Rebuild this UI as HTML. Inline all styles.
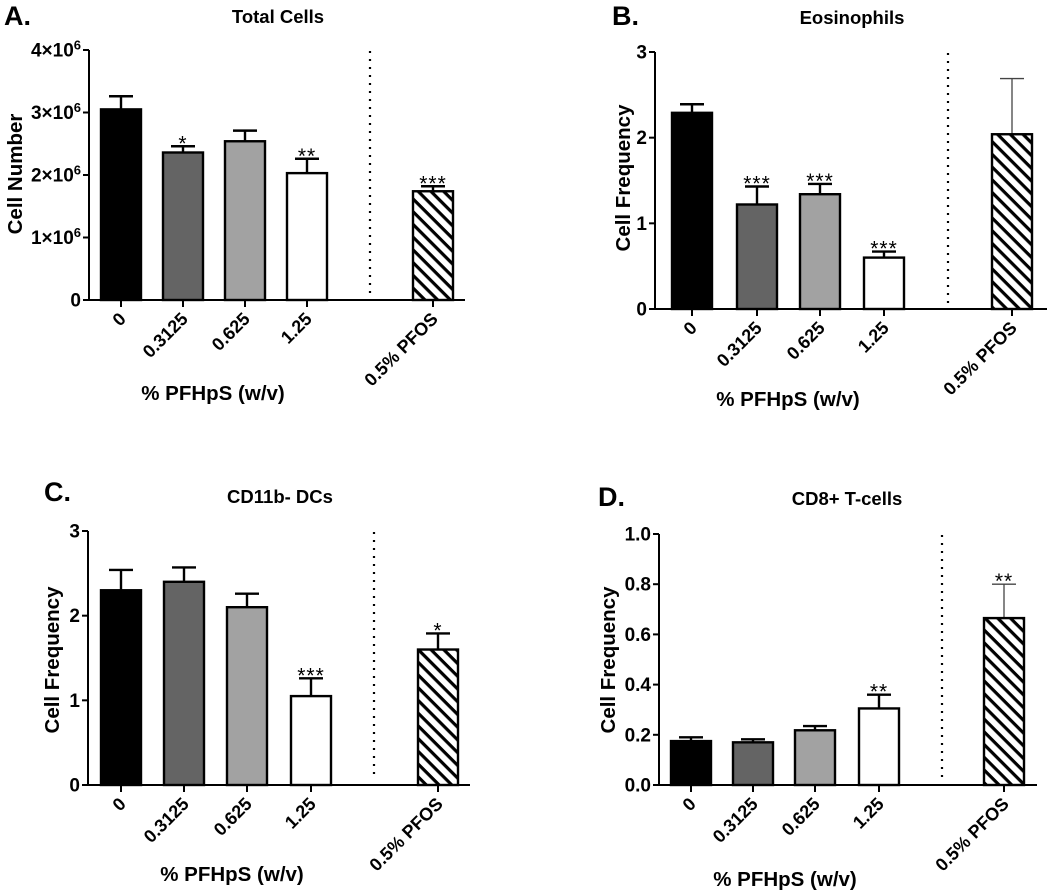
<!DOCTYPE html>
<html><head><meta charset="utf-8"><style>
html,body{margin:0;padding:0;background:#fff}
svg{display:block;font-family:"Liberation Sans",Arial,sans-serif;font-weight:bold}
</style></head><body>
<svg id="fig" width="1050" height="893" viewBox="0 0 1050 893">
<defs>
<pattern id="hatch" patternUnits="userSpaceOnUse" width="9" height="9" patternTransform="rotate(45)">
<rect width="9" height="9" fill="#fff"/><rect x="0" y="0" width="9" height="3.2" fill="#000"/>
</pattern>
</defs>
</svg>
<script>
const categories = ["0","0.3125","0.625","1.25","0.5% PFOS"];
const fills = ["#000","#646464","#a2a2a2","#fff","url(#hatch)"];
const totalMeans = [3.05,2.36,2.54,2.03,1.74];
const totalErr = [3.26,2.46,2.71,2.26,1.82];
const totalStars = ["","*","","**","***"];
const totalTicks = [0,1,2,3,4];
const eosMeans = [2.29,1.22,1.34,0.60,2.04];
const eosErr = [2.39,1.43,1.46,0.67,2.69];
const eosStars = ["","***","***","***",""];
const eosTicks = [0,1,2,3];
const dcMeans = [2.30,2.40,2.10,1.05,1.60];
const dcErr = [2.54,2.57,2.26,1.26,1.79];
const dcStars = ["","","","***","*"];
const dcTicks = [0,1,2,3];
const cd8Means = [0.175,0.170,0.218,0.305,0.665];
const cd8Err = [0.190,0.182,0.235,0.360,0.800];
const cd8Stars = ["","","","**","**"];
const cd8Ticks = [0,0.2,0.4,0.6,0.8,1.0];

const NS="http://www.w3.org/2000/svg";
const svg=document.getElementById('fig');
function mk(tag,attrs,parent,text){const e=document.createElementNS(NS,tag);for(const k in attrs)e.setAttribute(k,attrs[k]);if(text!==undefined)e.textContent=text;(parent||svg).appendChild(e);return e;}

function panel(p){
  const g=mk('g',{});
  
  
  const ymax=p.ticks[p.ticks.length-1];
  const Y=v=>p.bottom-(v/ymax)*(p.bottom-p.top);
  const lab=mk('text',{x:p.labX,y:p.labY,'font-size':27},g,p.label);
  
  const t=mk('text',{x:p.titleX,y:p.titleY,'font-size':18.5,'text-anchor':'middle'},g,p.title);
  
  const yt=mk('text',{x:0,y:0,'font-size':20.5,'text-anchor':'middle',transform:`translate(${p.ytX},${p.ytY}) rotate(-90)`},g,p.ytitle);
  
  const xt=mk('text',{x:p.xtX,y:p.xtY,'font-size':20.5,'text-anchor':'middle'},g,'% PFHpS (w/v)');
  
  const ya=mk('line',{x1:p.ax,y1:p.top,x2:p.ax,y2:p.bottom,stroke:'#000','stroke-width':2},g);
  
  const xa=mk('line',{x1:p.ax-6,y1:p.bottom,x2:p.axEnd,y2:p.bottom,stroke:'#000','stroke-width':2},g);
  
  p.ticks.forEach(v=>{
    const y=Y(v);
    mk('line',{x1:p.ax-6,y1:y,x2:p.ax,y2:y,stroke:'#000','stroke-width':2},g);
    const tl=mk('text',{x:p.ax-8,y:y+6.5,'font-size':19,'text-anchor':'end'},g);
    
    if(p.sci && v!==0){
      tl.appendChild(document.createTextNode(v+'×10'));
      mk('tspan',{dy:-7,'font-size':13},tl,'6');
    } else tl.textContent=p.fmt?p.fmt(v):String(v);
  });
  const dv=mk('line',{x1:p.div,y1:p.top+1,x2:p.div,y2:p.bottom-6,stroke:'#000','stroke-width':2.2,'stroke-dasharray':'2 6'},g);
  
  const bw=40;
  categories.forEach((c,i)=>{
    const cx=p.cx[i];
    mk('line',{x1:cx,y1:p.bottom,x2:cx,y2:p.bottom+7,stroke:'#000','stroke-width':2},g);
    const ey=Y(p.err[i]), my=Y(p.means[i]);
    const thin=(i===4 && p.thinErr);
    const el=mk('line',{x1:cx,y1:my,x2:cx,y2:ey,stroke:thin?'#444':'#000','stroke-width':thin?1.3:2.4},g);
    
    mk('line',{x1:cx-12,y1:ey,x2:cx+12,y2:ey,stroke:thin?'#444':'#000','stroke-width':thin?1.3:2.4},g);
    const r=mk('rect',{x:cx-bw/2,y:my,width:bw,height:p.bottom-my,fill:fills[i],stroke:'#000','stroke-width':2.4},g);
    
    
    if(p.stars[i]){
      const s=mk('text',{x:cx,y:ey+4,'font-size':21,'font-weight':'normal','text-anchor':'middle','letter-spacing':'1'},g,p.stars[i]);
      
    }
    const xl=mk('text',{x:0,y:0,'font-size':18,'text-anchor':'end',transform:`translate(${cx+6},${p.bottom+20}) rotate(-45)`},g,c);
    
  });
}

panel({name:'panel-a-total-cells',label:'A.',labX:4,labY:25,title:'Total Cells',titleX:278,titleY:23,
  ytitle:'Cell Number',ytX:22,ytY:174,xtX:213,xtY:400,ax:89,axEnd:465,top:50,bottom:300,
  cx:[121,183,245,307,433],div:370,means:totalMeans,err:totalErr,stars:totalStars,ticks:totalTicks,sci:true});
panel({name:'panel-b-eosinophils',label:'B.',labX:612,labY:25,title:'Eosinophils',titleX:852,titleY:24,
  ytitle:'Cell Frequency',ytX:630,ytY:178,xtX:788,xtY:406,ax:655,axEnd:1047,top:52,bottom:309,
  cx:[692,757,820,884,1012],div:948,means:eosMeans,err:eosErr,stars:eosStars,ticks:eosTicks,thinErr:true});
panel({name:'panel-c-cd11b-dcs',label:'C.',labX:44,labY:501,title:'CD11b- DCs',titleX:280,titleY:503,
  ytitle:'Cell Frequency',ytX:59,ytY:660,xtX:232,xtY:881,ax:88,axEnd:470,top:531,bottom:785,
  cx:[121,184,247,311,438],div:374,means:dcMeans,err:dcErr,stars:dcStars,ticks:dcTicks});
panel({name:'panel-d-cd8-t-cells',label:'D.',labX:598,labY:506,title:'CD8+ T-cells',titleX:847,titleY:505,
  ytitle:'Cell Frequency',ytX:615,ytY:660,xtX:785,xtY:886,ax:659,axEnd:1037,top:534,bottom:785,
  cx:[691,753,815,879,1004],div:942,means:cd8Means,err:cd8Err,stars:cd8Stars,ticks:cd8Ticks,thinErr:true,fmt:v=>v.toFixed(1)});
</script>
</body></html>
